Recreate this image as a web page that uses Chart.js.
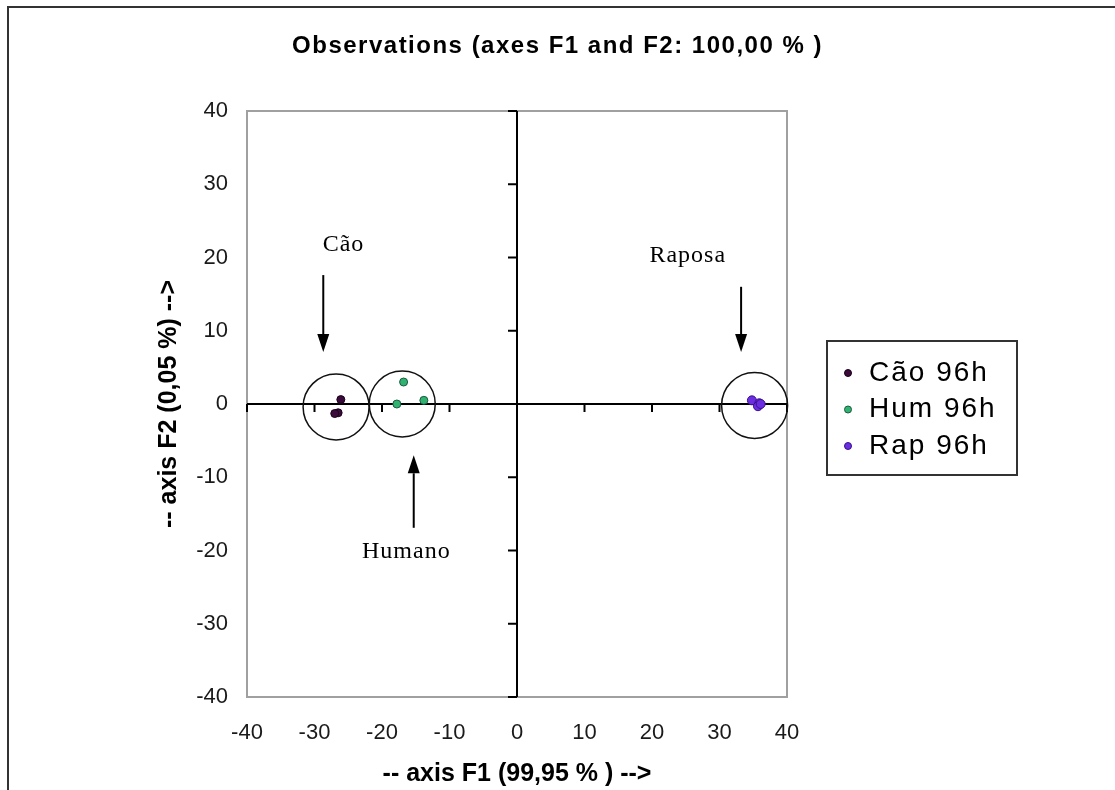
<!DOCTYPE html>
<html>
<head>
<meta charset="utf-8">
<title>Observations</title>
<script src="https://cdn.jsdelivr.net/npm/chart.js@4.4.1/dist/chart.umd.min.js"></script>
<style>
  html, body { margin: 0; padding: 0; background: #fff; }
  #wrap { width: 1115px; height: 790px; }
</style>
</head>
<body>
<div id="wrap"><canvas id="obsChart" width="1115" height="790"></canvas></div>
<script>
// observations (axis F1, axis F2)
const caoX = [-26.1, -26.5, -27.0];
const caoY = [0.6, -1.2, -1.3];
const humX = [-16.8, -17.8, -13.8];
const humY = [3.0, 0.0, 0.5];
const rapX = [34.8, 35.9, 35.7, 36.1];
const rapY = [0.5, 0.1, -0.3, 0.0];

const seriesNames = ["Cão 96h", "Hum 96h", "Rap 96h"];

// group circles (centres)
const circleX = [-26.8, -17.0, 35.2];
const circleY = [-0.4, 0.0, -0.2];

// notes + arrows
const noteLabels = ["Cão", "Humano", "Raposa"];
const noteX = [-25.7, -16.4, 25.3];
const noteY = [21.7, -20.2, 20.3];
const arrowX = [-28.7, -15.3, 33.2];
const arrowFromY = [17.6, -16.9, 16.0];
const arrowToY = [7.1, -7.0, 7.1];

const axisMin = -40;
const axisMax = 40;
const axisStep = 10;

const chartTitle = "Observations (axes F1 and F2: 100,00 % )";
const xTitle = "-- axis F1 (99,95 % ) -->";
const yTitle = "-- axis F2 (0,05 %) -->";

function toPoints(xs, ys) {
  return xs.map((x, i) => ({ x: x, y: ys[i] }));
}

const fontSans = "Arial, 'Liberation Sans', sans-serif";
const fontSerif = "'Times New Roman', 'Liberation Serif', serif";

const decorPlugin = {
  id: "decor",
  beforeDraw(chart) {
    const ctx = chart.ctx;
    ctx.save();
    ctx.fillStyle = "#fff";
    ctx.fillRect(0, 0, chart.width, chart.height);
    // outer frame (runs off right and bottom)
    ctx.strokeStyle = "#333";
    ctx.lineWidth = 2;
    ctx.strokeRect(8, 7, chart.width + 20, chart.height + 20);
    ctx.restore();
  },
  beforeDatasetsDraw(chart) {
    const ctx = chart.ctx;
    const a = chart.chartArea;
    const xs = chart.scales.x;
    const ys = chart.scales.y;
    ctx.save();
    // plot box
    ctx.strokeStyle = "#a0a0a0";
    ctx.lineWidth = 2;
    ctx.strokeRect(a.left, a.top, a.right - a.left, a.bottom - a.top);

    // zero axes
    const x0 = xs.getPixelForValue(0);
    const y0 = ys.getPixelForValue(0);
    ctx.strokeStyle = "#000";
    ctx.lineWidth = 2;
    ctx.beginPath();
    ctx.moveTo(x0, a.top);
    ctx.lineTo(x0, a.bottom);
    ctx.moveTo(a.left, y0);
    ctx.lineTo(a.right, y0);
    // small tick marks on the zero axes
    xs.ticks.forEach(t => {
      const px = xs.getPixelForValue(t.value);
      ctx.moveTo(px, y0);
      ctx.lineTo(px, y0 + 8);
    });
    ys.ticks.forEach(t => {
      const py = ys.getPixelForValue(t.value);
      ctx.moveTo(x0, py);
      ctx.lineTo(x0 - 9, py);
    });
    ctx.stroke();
    ctx.restore();
  },
  afterDatasetsDraw(chart) {
    const ctx = chart.ctx;
    const xs = chart.scales.x;
    const ys = chart.scales.y;
    ctx.save();

    // arrows
    ctx.strokeStyle = "#000";
    ctx.fillStyle = "#000";
    ctx.lineWidth = 2;
    arrowX.forEach((ax, i) => {
      const px = xs.getPixelForValue(ax);
      const pFrom = ys.getPixelForValue(arrowFromY[i]);
      const pTo = ys.getPixelForValue(arrowToY[i]);
      const dir = pTo > pFrom ? 1 : -1;
      const headLen = 18;
      ctx.beginPath();
      ctx.moveTo(px, pFrom);
      ctx.lineTo(px, pTo - dir * headLen);
      ctx.stroke();
      ctx.beginPath();
      ctx.moveTo(px, pTo);
      ctx.lineTo(px - 6, pTo - dir * headLen);
      ctx.lineTo(px + 6, pTo - dir * headLen);
      ctx.closePath();
      ctx.fill();
    });

    // notes
    ctx.font = "24px " + fontSerif;
    ctx.letterSpacing = "1px";
    ctx.textAlign = "center";
    ctx.textBaseline = "middle";
    noteLabels.forEach((txt, i) => {
      ctx.fillText(txt, xs.getPixelForValue(noteX[i]), ys.getPixelForValue(noteY[i]));
    });

    // title
    ctx.font = "bold 24px " + fontSans;
    ctx.letterSpacing = "1.5px";
    ctx.fillText(chartTitle, chart.width / 2, 46);

    // legend box
    ctx.strokeStyle = "#333";
    ctx.lineWidth = 2;
    ctx.strokeRect(827, 341, 190, 134);
    ctx.font = "28px " + fontSans;
    ctx.letterSpacing = "2px";
    ctx.textAlign = "left";
    seriesNames.forEach((name, i) => {
      const ds = chart.data.datasets[i];
      const ry = 373 + i * 36.5;
      ctx.beginPath();
      ctx.arc(848, ry, 3.5, 0, Math.PI * 2);
      ctx.fillStyle = ds.backgroundColor;
      ctx.fill();
      ctx.strokeStyle = ds.borderColor;
      ctx.lineWidth = 1;
      ctx.stroke();
      ctx.fillStyle = "#000";
      ctx.fillText(name, 869, ry);
    });
    ctx.letterSpacing = "0px";
    ctx.restore();
  }
};

function makeAxis(title, isX) {
  return {
    type: "linear",
    min: axisMin,
    max: axisMax,
    grid: { display: false, drawTicks: false },
    border: { display: false },
    ticks: {
      stepSize: axisStep,
      padding: isX ? 23 : 19,
      color: "#1a1a1a",
      font: { family: fontSans, size: 22 }
    },
    title: {
      display: true,
      text: title,
      color: "#000",
      font: { family: fontSans, size: 25, weight: "bold" },
      padding: isX ? { top: 0, bottom: 1 } : { top: 4, bottom: 0 }
    },
    afterFit(scale) {
      if (isX) scale.height = 93;
      else scale.width = 97;
    }
  };
}

function renderChart() {
  const ctx = document.getElementById("obsChart").getContext("2d");
  window.obsChartInstance = new Chart(ctx, {
    type: "scatter",
    data: {
      datasets: [
        {
          label: seriesNames[0],
          data: toPoints(caoX, caoY),
          backgroundColor: "#3a0a3a",
          borderColor: "#1a001a",
          borderWidth: 1,
          pointRadius: 4
        },
        {
          label: seriesNames[1],
          data: toPoints(humX, humY),
          backgroundColor: "#2fb36f",
          borderColor: "#1d5a45",
          borderWidth: 1,
          pointRadius: 4
        },
        {
          label: seriesNames[2],
          data: toPoints(rapX, rapY),
          backgroundColor: "#6a2ee0",
          borderColor: "#3a1090",
          borderWidth: 1,
          pointRadius: 4.5
        },
        {
          label: "groups",
          data: toPoints(circleX, circleY),
          backgroundColor: "rgba(0,0,0,0)",
          borderColor: "#111",
          borderWidth: 1.5,
          pointRadius: 33,
          pointHoverRadius: 33,
          clip: false
        }
      ]
    },
    options: {
      responsive: false,
      animation: false,
      layout: { padding: { left: 150, right: 328, top: 111, bottom: 0 } },
      plugins: {
        legend: { display: false },
        title: { display: false },
        tooltip: { enabled: false }
      },
      scales: {
        x: makeAxis(xTitle, true),
        y: makeAxis(yTitle, false)
      }
    },
    plugins: [decorPlugin]
  });
}

document.addEventListener("DOMContentLoaded", renderChart);
</script>
</body>
</html>
